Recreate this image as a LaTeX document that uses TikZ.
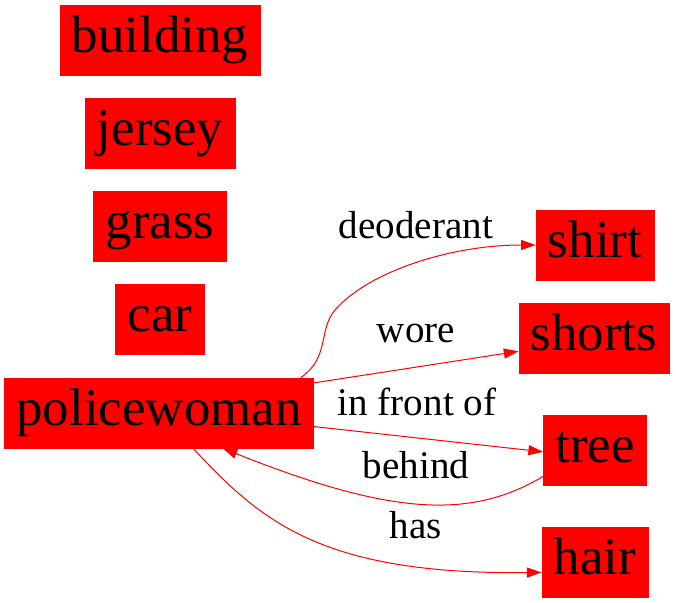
\documentclass[tikz,border=0pt]{standalone}
\usepackage{fontspec}
\setmainfont{Liberation Serif}
\usepackage{tikz}
\usetikzlibrary{arrows.meta}
\definecolor{boxred}{RGB}{255,0,0}

\begin{document}
\begin{tikzpicture}[x=0.75pt,y=-0.75pt,
  obj/.style={fill=boxred,draw=boxred,inner xsep=9pt,inner ysep=0pt,minimum height=52.5pt,
    font=\fontsize{39.7}{44}\selectfont,text height=27.4pt,text depth=8.7pt},
  rel/.style={inner sep=0pt,font=\fontsize{29.3}{34}\selectfont,text height=20.2pt,text depth=6.4pt},
  link/.style={boxred,line width=0.75pt,-{Triangle[length=11pt,width=7.5pt]}}]
\useasboundingbox (0,0) rectangle (676,603);
\node[obj] (building) at (160,40) {building};
\node[obj] (jersey) at (160,133) {jersey};
\node[obj] (grass) at (160,226) {grass};
\node[obj] (car) at (160,319) {car};
\node[obj] (pw) at (159,413) {policewoman};
\node[obj] (shirt) at (595,245) {shirt};
\node[obj] (shorts) at (594,338) {shorts};
\node[obj] (tree) at (595,450) {tree};
\node[obj] (hair) at (595,562) {hair};
\node[rel] (deo) at (416,229) {deoderant};
\node[rel] (wore) at (416,333) {wore};
\node[rel] (front) at (417,406) {in front of};
\node[rel] (behind) at (416,469) {behind};
\node[rel] (has) at (416,529) {has};
\draw[link] (pw.14) .. controls (330,358) and (318,330) .. (335,310)
  .. controls (368,272) and (450,245) .. (shirt.west);
\draw[link] (pw.11) -- (shorts.190);
\draw[link] (pw.-5) -- (tree.182);
\draw[link] (tree.207) .. controls (470,520) and (390,515) .. (pw.-29);
\draw[link] (pw.-46) .. controls (260,520) and (320,575) .. (hair.191);
\end{tikzpicture}
\end{document}
